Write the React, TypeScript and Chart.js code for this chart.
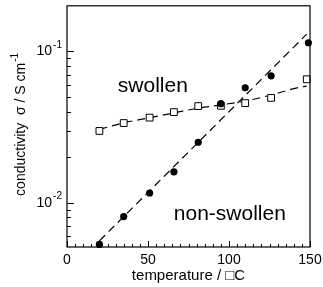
import React, { useEffect, useRef } from "react";
import { Chart, registerables } from "chart.js";

Chart.register(...registerables);

// measured data (temperature / °C, conductivity / S cm^-1)
const swollenT = [20, 35, 51, 66, 81, 95, 110, 126, 148];
const swollenSigma = [0.0298, 0.0336, 0.0365, 0.0397, 0.0435, 0.0437, 0.0455, 0.0493, 0.0654];
const nonSwollenT = [20, 35, 51, 66, 81, 95, 110, 126, 149];
const nonSwollenSigma = [0.0053, 0.0081, 0.0116, 0.016, 0.0251, 0.0451, 0.0574, 0.0689, 0.114];

// dashed fit curves
const swollenFitT = [20, 35, 50, 65, 80, 95, 110, 126, 142, 148];
const swollenFitSigma = [0.0305, 0.0337, 0.0363, 0.039, 0.042, 0.0443, 0.047, 0.0515, 0.0574, 0.059];
const nonSwollenFitT = [20, 148];
const nonSwollenFitSigma = [0.0056, 0.13];

// axes
const xMin = 0;
const xMax = 150;
const yMin = 0.0051;
const yMax = 0.2;
const xMajorTicks = [0, 50, 100, 150];
const xTickLabels = ["0", "50", "100", "150"];
const xMinorTicks = [5, 10, 15, 20, 25, 30, 35, 40, 45, 55, 60, 65, 70, 75, 80, 85, 90, 95, 105, 110, 115, 120, 125, 130, 135, 140, 145];
const yMajorTicks = [0.01, 0.1];
const yTickBase = ["10", "10"];
const yTickExp = ["-2", "-1"];
const yMinorTicks = [0.006, 0.007, 0.008, 0.009, 0.02, 0.03, 0.04, 0.05, 0.06, 0.07, 0.08, 0.09];

const xTitle = "temperature / \u25A1C";
const yTitleMain = "conductivity  \u03C3 / S cm";
const yTitleExp = "-1";
const labelSwollen = "swollen";
const labelNonSwollen = "non-swollen";

const FONT = "'Liberation Sans', Arial, sans-serif";

const decorPlugin = {
  id: "decor",
  afterDatasetsDraw(chart: any) {
    const { ctx, chartArea: a, scales } = chart;
    const xs = scales.x;
    const ys = scales.y;
    ctx.save();
    ctx.strokeStyle = "#000";
    ctx.fillStyle = "#000";
    ctx.lineWidth = 1.2;
    ctx.strokeRect(a.left, a.top, a.right - a.left, a.bottom - a.top);

    ctx.lineWidth = 1;
    // ticks (inward)
    ctx.beginPath();
    xMinorTicks.forEach((v) => {
      const px = Math.round(xs.getPixelForValue(v)) + 0.5;
      ctx.moveTo(px, a.bottom);
      ctx.lineTo(px, a.bottom - 3);
    });
    xMajorTicks.forEach((v) => {
      const px = Math.round(xs.getPixelForValue(v)) + 0.5;
      ctx.moveTo(px, a.bottom);
      ctx.lineTo(px, a.bottom - 6);
    });
    yMinorTicks.forEach((v) => {
      const py = Math.round(ys.getPixelForValue(v)) + 0.5;
      ctx.moveTo(a.left, py);
      ctx.lineTo(a.left + 4, py);
    });
    yMajorTicks.forEach((v) => {
      const py = Math.round(ys.getPixelForValue(v)) + 0.5;
      ctx.moveTo(a.left, py);
      ctx.lineTo(a.left + 7, py);
    });
    ctx.stroke();

    // x tick labels
    ctx.font = `14px ${FONT}`;
    ctx.textAlign = "center";
    ctx.textBaseline = "middle";
    xMajorTicks.forEach((v, i) => {
      ctx.fillText(xTickLabels[i], xs.getPixelForValue(v), a.bottom + 13);
    });

    // y tick labels with superscript
    yMajorTicks.forEach((v, i) => {
      const py = ys.getPixelForValue(v);
      ctx.font = `10px ${FONT}`;
      const we = ctx.measureText(yTickExp[i]).width;
      ctx.textAlign = "right";
      ctx.fillText(yTickExp[i], a.left - 5, py - 6);
      ctx.font = `14px ${FONT}`;
      ctx.fillText(yTickBase[i], a.left - 5 - we - 1, py);
    });

    // x title
    ctx.font = `15px ${FONT}`;
    ctx.textAlign = "center";
    ctx.fillText(xTitle, (a.left + a.right) / 2, a.bottom + 29);

    // y title (rotated)
    ctx.save();
    ctx.translate(21, (a.top + a.bottom) / 2 - 2);
    ctx.rotate(-Math.PI / 2);
    ctx.font = `14px ${FONT}`;
    const wm = ctx.measureText(yTitleMain).width;
    ctx.font = `10px ${FONT}`;
    const wx = ctx.measureText(yTitleExp).width;
    const start = -(wm + wx + 1) / 2;
    ctx.textAlign = "left";
    ctx.font = `14px ${FONT}`;
    ctx.fillText(yTitleMain, start, 0);
    ctx.font = `10px ${FONT}`;
    ctx.fillText(yTitleExp, start + wm + 1, -6);
    ctx.restore();

    // annotations
    ctx.font = `21px ${FONT}`;
    ctx.textAlign = "center";
    ctx.fillText(labelSwollen, xs.getPixelForValue(53), ys.getPixelForValue(0.0585));
    ctx.fillText(labelNonSwollen, xs.getPixelForValue(100.5), ys.getPixelForValue(0.00834));
    ctx.restore();
  },
};

function toPoints(xs: number[], ys: number[]) {
  return xs.map((x, i) => ({ x, y: ys[i] }));
}

export default function App() {
  const ref = useRef<HTMLCanvasElement>(null);
  useEffect(() => {
    const canvas = ref.current;
    if (!canvas) return;
    const chart = new Chart(canvas, {
      type: "scatter",
      data: {
        datasets: [
          {
            label: "swollen fit",
            data: toPoints(swollenFitT, swollenFitSigma),
            showLine: true,
            borderColor: "#000",
            borderWidth: 1.2,
            borderDash: [8, 5],
            pointRadius: 0,
            cubicInterpolationMode: "monotone",
            fill: false,
            clip: false,
            order: 3,
          } as any,
          {
            label: "non-swollen fit",
            data: toPoints(nonSwollenFitT, nonSwollenFitSigma),
            showLine: true,
            borderColor: "#000",
            borderWidth: 1.2,
            borderDash: [8, 5],
            pointRadius: 0,
            fill: false,
            clip: false,
            order: 3,
          } as any,
          {
            label: "swollen",
            data: toPoints(swollenT, swollenSigma),
            showLine: false,
            pointStyle: "rect",
            pointRadius: 4.8,
            pointBackgroundColor: "#fff",
            pointBorderColor: "#000",
            pointBorderWidth: 1,
            clip: false,
            order: 2,
          } as any,
          {
            label: "non-swollen",
            data: toPoints(nonSwollenT, nonSwollenSigma),
            showLine: false,
            pointStyle: "circle",
            pointRadius: 3.6,
            pointBackgroundColor: "#000",
            pointBorderColor: "#000",
            pointBorderWidth: 0,
            clip: false,
            order: 1,
          } as any,
        ],
      },
      options: {
        animation: false,
        responsive: false,
        maintainAspectRatio: false,
        events: [],
        layout: { padding: { left: 67, right: 13, top: 5, bottom: 40 } },
        plugins: {
          legend: { display: false },
          tooltip: { enabled: false },
          title: { display: false },
        },
        scales: {
          x: { type: "linear", min: xMin, max: xMax, display: false },
          y: { type: "logarithmic", min: yMin, max: yMax, display: false },
        },
      },
      plugins: [decorPlugin],
    });
    return () => chart.destroy();
  }, []);

  return (
    <div style={{ position: "absolute", left: 0, top: 0, width: 323, height: 287, background: "#fff" }}>
      <canvas ref={ref} width={323} height={287} style={{ display: "block", width: 323, height: 287 }} />
    </div>
  );
}
